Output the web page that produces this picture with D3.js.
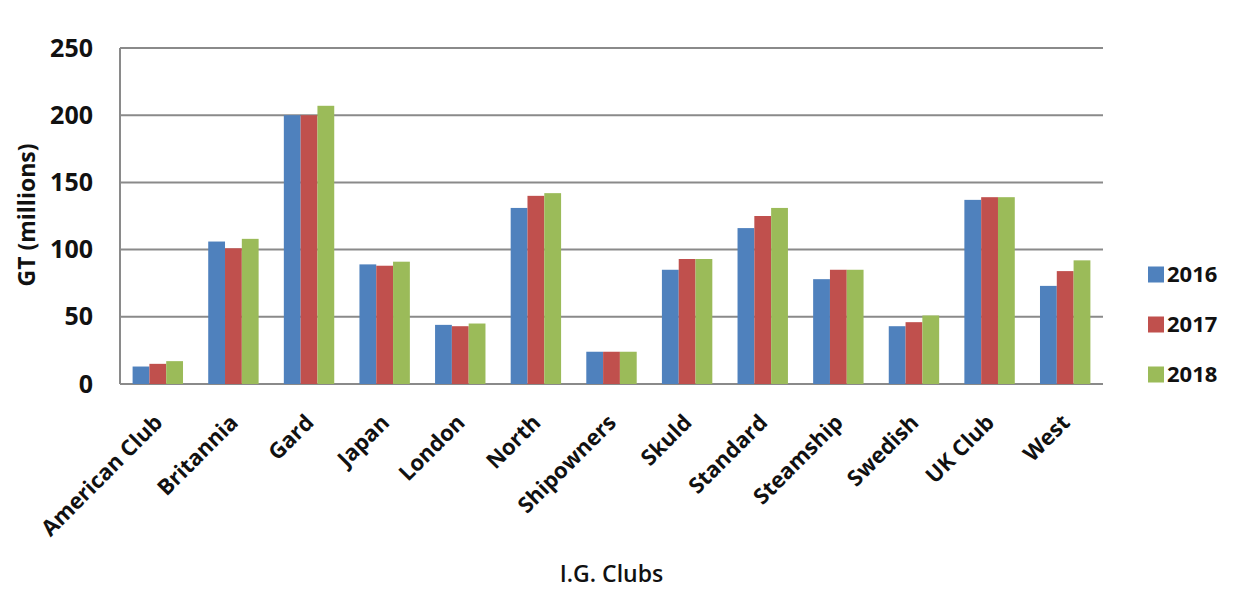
<!DOCTYPE html>
<html>
<head>
<meta charset="utf-8">
<script src="https://cdn.jsdelivr.net/npm/d3@7"></script>
<style>
  body { margin: 0; background: #fff; }
  text { font-family: "Open Sans", "Noto Sans", sans-serif; font-weight: bold; fill: #111; }
</style>
</head>
<body>
<svg id="chart"></svg>
<script>
var clubs = ["American Club", "Britannia", "Gard", "Japan", "London", "North", "Shipowners",
             "Skuld", "Standard", "Steamship", "Swedish", "UK Club", "West"];
var years = ["2016", "2017", "2018"];
var gt2016 = [13, 106, 200, 89, 44, 131, 24, 85, 116, 78, 43, 137, 73];
var gt2017 = [15, 101, 200, 88, 43, 140, 24, 93, 125, 85, 46, 139, 84];
var gt2018 = [17, 108, 207, 91, 45, 142, 24, 93, 131, 85, 51, 139, 92];
var yTicks = [0, 50, 100, 150, 200, 250];
var colors = ["#4f81bd", "#c0504d", "#9bbb59"];

var width = 1243, height = 589;
var padding = { top: 48, right: 140, bottom: 205, left: 120 };

var svg = d3.select("#chart")
            .attr("width", width)
            .attr("height", height);

var series = [gt2016, gt2017, gt2018];
var rows = clubs.map((c, i) => ({ club: c, values: series.map((s, j) => ({ year: years[j], value: s[i] })) }));

var xScale = d3.scaleBand()
               .domain(clubs)
               .range([padding.left, width - padding.right])
               .paddingInner(1.5 / 4.5)
               .paddingOuter(0.75 / 4.5);

var x1 = d3.scaleBand()
           .domain(years)
           .range([0, xScale.bandwidth()]);

var yScale = d3.scaleLinear()
               .domain([0, 250])
               .range([height - padding.bottom, padding.top]);

var colorScale = d3.scaleOrdinal()
                   .domain(years)
                   .range(colors);

// gridlines
svg.append("g")
    .selectAll("line")
    .data(yTicks)
    .enter()
    .append("line")
      .attr("x1", padding.left)
      .attr("x2", width - padding.right)
      .attr("y1", d => yScale(d))
      .attr("y2", d => yScale(d))
      .attr("stroke", "#8a8a8a")
      .attr("stroke-width", 2);

// left axis line
svg.append("line")
    .attr("x1", padding.left)
    .attr("x2", padding.left)
    .attr("y1", yScale(250))
    .attr("y2", yScale(0))
    .attr("stroke", "#8a8a8a")
    .attr("stroke-width", 2);

// bars
svg.append("g")
  .selectAll("g")
  .data(rows)
  .enter()
  .append("g")
    .attr("transform", d => "translate(" + xScale(d.club) + ",0)")
  .selectAll("rect")
  .data(d => d.values)
  .enter()
  .append("rect")
    .attr("x", d => x1(d.year))
    .attr("width", x1.bandwidth())
    .attr("y", d => yScale(d.value))
    .attr("height", d => yScale(0) - yScale(d.value))
    .attr("fill", d => colorScale(d.year));

// y axis
var yAxis = d3.axisLeft(yScale)
              .tickValues(yTicks)
              .tickSize(0)
              .tickPadding(27);

svg.append("g")
    .attr("transform", "translate(" + padding.left + ",0)")
    .call(yAxis)
    .call(g => g.select(".domain").remove())
    .selectAll("text")
      .style("font-size", "25px")
      .attr("fill", "#111");

// x axis
var xAxis = d3.axisBottom(xScale)
              .tickSize(0)
              .tickPadding(0);

svg.append("g")
    .attr("transform", "translate(0," + yScale(0) + ")")
    .call(xAxis)
    .call(g => g.select(".domain").remove())
    .selectAll("text")
      .style("font-size", "22px")
      .style("text-anchor", "end")
      .attr("fill", "#111")
      .attr("y", 0)
      .attr("dy", "0")
      .attr("transform", "translate(6,40) rotate(-45)");

// axis titles
svg.append("text")
    .attr("transform", "rotate(-90)")
    .attr("x", -215)
    .attr("y", 35)
    .style("text-anchor", "middle")
    .style("font-size", "23px")
    .text("GT (millions)");

svg.append("text")
    .attr("x", (padding.left + width - padding.right) / 2)
    .attr("y", 582)
    .style("text-anchor", "middle")
    .style("font-size", "23px")
    .style("font-weight", "600")
    .text("I.G. Clubs");

// legend
var legend = svg.append("g")
                .selectAll("g")
                .data(years)
                .enter()
                .append("g")
                  .attr("transform", (d, i) => "translate(1148," + (274.5 + i * 50) + ")");

legend.append("rect")
    .attr("x", 0)
    .attr("y", -8)
    .attr("width", 16)
    .attr("height", 16)
    .attr("fill", d => colorScale(d));

legend.append("text")
    .attr("x", 19)
    .attr("dy", "0.36em")
    .style("font-size", "22px")
    .text(d => d);
</script>
</body>
</html>
